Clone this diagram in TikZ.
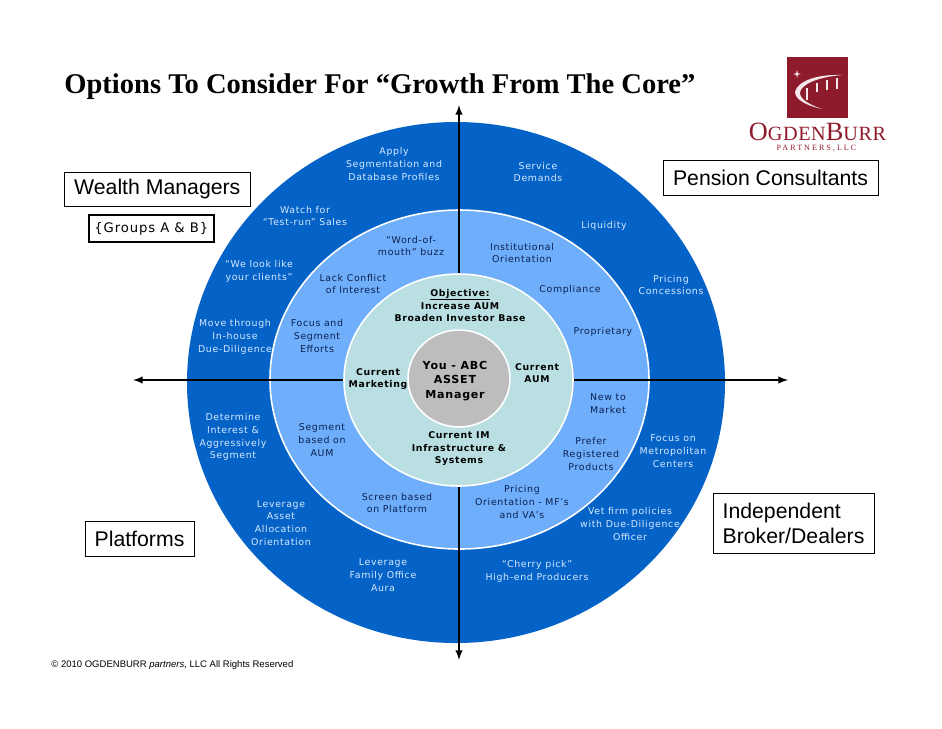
\documentclass[tikz,border=0pt]{standalone}
\usepackage{fontspec}
\setmainfont{Liberation Serif}
\setsansfont{Liberation Sans}
\newfontfamily\labelfont[LetterSpace=7]{DejaVu Sans}
\newfontfamily\logofont[LetterSpace=3]{Liberation Serif}
\newfontfamily\partnersfont[LetterSpace=25]{Liberation Serif}
\definecolor{outerblue}{HTML}{0563C8}
\definecolor{midblue}{HTML}{6FAEFB}
\definecolor{coreteal}{HTML}{B9DFE2}
\definecolor{hubgray}{HTML}{BDBDBD}
\definecolor{outertext}{HTML}{D5E9FF}
\definecolor{midtext}{HTML}{0B2150}
\definecolor{logored}{HTML}{8E1B2C}
\tikzset{
	outerlabel/.style={align=center, inner sep=0pt, text=outertext, font=\labelfont\fontsize{5.35}{7.3}\selectfont},
	midlabel/.style={align=center, inner sep=0pt, text=midtext, font=\labelfont\fontsize{5.35}{7.3}\selectfont},
	corelabel/.style={align=center, inner sep=0pt, text=black, font=\labelfont\bfseries\fontsize{5.3}{7.1}\selectfont},
	marketbox/.style={draw=black, line width=0.5pt, inner sep=0pt, font=\sffamily\fontsize{12.1}{14.2}\selectfont},
	ring/.style={draw=white, line width=0.9pt},
	axisline/.style={line width=0.9pt, latex-latex}
}

\begin{document}
\begin{tikzpicture}[x=0.02cm, y=-0.02cm]
	%%%%% START %%%%%

	\useasboundingbox (0, 0) rectangle (942, 728);

	\fill[outerblue] (456, 382.5) ellipse (269 and 260.5);
	\draw[ring, fill=midblue] (459.5, 379.5) ellipse (189.5 and 169.5);

	\coordinate (axiswest) at (133, 380);
	\coordinate (axiseast) at (788, 380);
	\coordinate (axisnorth) at (459, 105);
	\coordinate (axissouth) at (459, 660);
	\draw[axisline] (axiswest) -- (axiseast);
	\draw[axisline] (axisnorth) -- (axissouth);

	\draw[ring, fill=coreteal] (458.5, 380) ellipse (114.5 and 106);
	\draw[ring, fill=hubgray] (459, 378.5) ellipse (51 and 48.5);

	\node[anchor=base west, inner sep=0pt, font=\rmfamily\bfseries\fontsize{16.25}{18}\selectfont] (title) at (64, 93) {Options To Consider For “Growth From The Core”};

	%%%%% outer ring %%%%%
	\node[outerlabel] (apply) at (394, 164) {Apply\\Segmentation and\\Database Profiles};
	\node[outerlabel] (service) at (538, 172) {Service\\Demands};
	\node[outerlabel] (watch) at (305, 216) {Watch for\\“Test-run” Sales};
	\node[outerlabel] (liquidity) at (604, 226) {Liquidity};
	\node[outerlabel] (looklike) at (259, 271) {“We look like\\your clients”};
	\node[outerlabel] (concessions) at (671, 285) {Pricing\\Concessions};
	\node[outerlabel] (movethrough) at (235, 337) {Move through\\In-house\\Due-Diligence};
	\node[outerlabel] (determine) at (233, 437) {Determine\\Interest \&\\Aggressively\\Segment};
	\node[outerlabel] (metro) at (673, 451) {Focus on\\Metropolitan\\Centers};
	\node[outerlabel] (allocation) at (281, 523) {Leverage\\Asset\\Allocation\\Orientation};
	\node[outerlabel] (vetfirm) at (630, 524) {Vet firm policies\\with Due-Diligence\\Officer};
	\node[outerlabel] (family) at (383, 575) {Leverage\\Family Office\\Aura};
	\node[outerlabel] (cherry) at (537, 571) {“Cherry pick”\\High-end Producers};

	%%%%% middle ring %%%%%
	\node[midlabel] (wordofmouth) at (411, 246) {“Word-of-\\mouth” buzz};
	\node[midlabel] (institutional) at (522, 253) {Institutional\\Orientation};
	\node[midlabel] (lackconflict) at (353, 284) {Lack Conflict\\of Interest};
	\node[midlabel] (compliance) at (570, 290) {Compliance};
	\node[midlabel] (proprietary) at (603, 332) {Proprietary};
	\node[midlabel] (focus) at (317, 336) {Focus and\\Segment\\Efforts};
	\node[midlabel] (newmarket) at (608, 404) {New to\\Market};
	\node[midlabel] (segment) at (322, 440) {Segment\\based on\\AUM};
	\node[midlabel] (prefer) at (591, 454) {Prefer\\Registered\\Products};
	\node[midlabel] (pricing) at (522, 502) {Pricing\\Orientation - MF’s\\and VA’s};
	\node[midlabel] (screen) at (397, 503) {Screen based\\on Platform};

	%%%%% core %%%%%
	\node[corelabel] (objective) at (460, 309.5) {\underline{\smash{Objective:}}\\Increase AUM\\Broaden Investor Base};
	\node[corelabel] (marketing) at (378, 379) {Current\\Marketing};
	\node[corelabel] (aum) at (537, 373) {Current\\AUM};
	\node[corelabel] (infra) at (459, 449) {Current IM\\Infrastructure \&\\Systems};
	\node[corelabel, font=\labelfont\bfseries\fontsize{6.3}{8.3}\selectfont] (hub) at (455, 381) {You - ABC\\ASSET\\Manager};

	%%%%% market boxes %%%%%
	\node[marketbox, minimum width=186.5*0.02cm, minimum height=34*0.02cm] (wealth) at (157.3, 189) {Wealth Managers};
	\node[draw=black, line width=0.85pt, inner sep=0pt, minimum width=125*0.02cm, minimum height=27*0.02cm, font=\labelfont\fontsize{7.5}{9}\selectfont] (groups) at (151.3, 228.5) {\{Groups A \& B\}};
	\node[marketbox, minimum width=215*0.02cm, minimum height=35*0.02cm] (pension) at (770.5, 177.5) {Pension Consultants};
	\node[marketbox, minimum width=161*0.02cm, minimum height=60*0.02cm, align=left] (dealers) at (793.5, 523) {Independent\\Broker/Dealers};
	\node[marketbox, minimum width=109*0.02cm, minimum height=35*0.02cm] (platforms) at (139.5, 538.5) {Platforms};

	\node[anchor=base west, inner sep=0pt, font=\sffamily\fontsize{5.42}{6}\selectfont] (copyright) at (51, 667) {© 2010 OGDENBURR \textit{partners}, LLC All Rights Reserved};

	%%%%% logo %%%%%
	\fill[logored] (787, 57) rectangle (848, 118);
	\fill[white!90!logored] (842, 75) .. controls (815, 74) and (797, 82) .. (795, 92) .. controls (795, 100) and (808, 106) .. (822, 109) .. controls (810, 105) and (799, 99) .. (800, 92) .. controls (802, 84) and (818, 77) .. (842, 75) -- cycle;
	\fill[white!90!logored] (797, 70) -- (797.8, 73.2) -- (801, 74) -- (797.8, 74.8) -- (797, 78) -- (796.2, 74.8) -- (793, 74) -- (796.2, 73.2) -- cycle;
	\foreach \tickx/\tickup/\tickdown in {807/88/100, 817/83/92, 827/80/90, 837/78/89}
		\draw[white!90!logored, line width=0.6pt] (\tickx, \tickup) -- (\tickx, \tickdown);
	\node[anchor=base, inner sep=0pt, text=logored, font=\logofont\fontsize{15}{16}\selectfont] (logoname) at (817.5, 140.5) {O\fontsize{11.5}{16}\selectfont GDEN\fontsize{15}{16}\selectfont B\fontsize{11.5}{16}\selectfont URR};
	\node[anchor=base, inner sep=0pt, text=logored, font=\partnersfont\fontsize{4.6}{5}\selectfont] (logopartners) at (816.5, 150) {PARTNERS,LLC};

	%%%%% END %%%%%
\end{tikzpicture}
\end{document}
